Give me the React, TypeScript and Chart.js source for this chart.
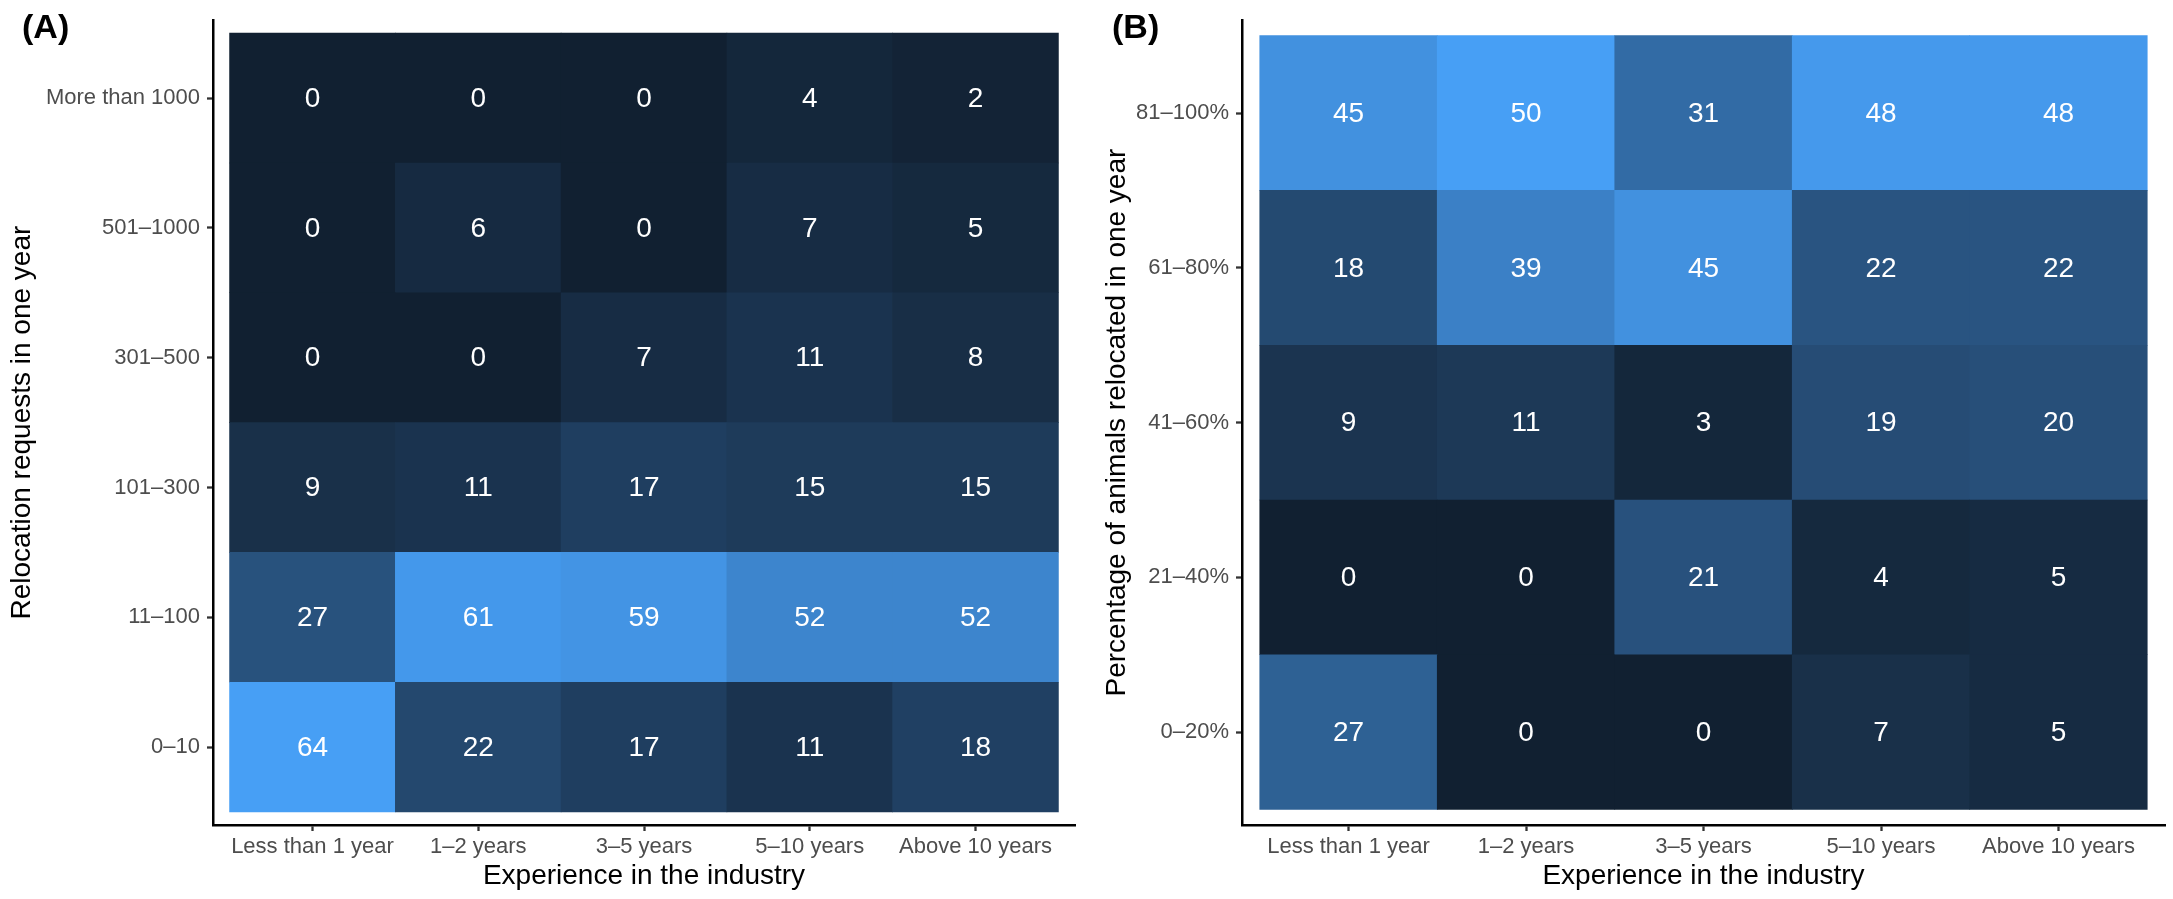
import React, { useEffect, useRef } from "react";
import { Chart, registerables } from "chart.js";

Chart.register(...registerables);

const FONT = '"Liberation Sans", Arial, Helvetica, sans-serif';

// Shared x categories
const experienceLevels = ["Less than 1 year", "1–2 years", "3–5 years", "5–10 years", "Above 10 years"];

// Panel A: relocation requests in one year (rows bottom -> top)
const requestBands = ["0–10", "11–100", "101–300", "301–500", "501–1000", "More than 1000"];
const requests0to10 = [64, 22, 17, 11, 18];
const requests11to100 = [27, 61, 59, 52, 52];
const requests101to300 = [9, 11, 17, 15, 15];
const requests301to500 = [0, 0, 7, 11, 8];
const requests501to1000 = [0, 6, 0, 7, 5];
const requestsOver1000 = [0, 0, 0, 4, 2];

// Panel B: percentage of animals relocated in one year (rows bottom -> top)
const relocatedBands = ["0–20%", "21–40%", "41–60%", "61–80%", "81–100%"];
const relocated0to20 = [27, 0, 0, 7, 5];
const relocated21to40 = [0, 0, 21, 4, 5];
const relocated41to60 = [9, 11, 3, 19, 20];
const relocated61to80 = [18, 39, 45, 22, 22];
const relocated81to100 = [45, 50, 31, 48, 48];

const LOW = "#112031";
const HIGH = "#479FF5";

// ---- colour helpers (Lab interpolation like ggplot's gradient) ----
function hexToRgb(h: string): number[] {
  const n = parseInt(h.slice(1), 16);
  return [(n >> 16) & 255, (n >> 8) & 255, n & 255];
}
function srgbToLin(c: number) {
  c /= 255;
  return c <= 0.04045 ? c / 12.92 : Math.pow((c + 0.055) / 1.055, 2.4);
}
function linToSrgb(c: number) {
  const v = c <= 0.0031308 ? 12.92 * c : 1.055 * Math.pow(c, 1 / 2.4) - 0.055;
  return Math.round(Math.min(1, Math.max(0, v)) * 255);
}
const Xn = 0.95047, Yn = 1, Zn = 1.08883;
const fLab = (t: number) => (t > 0.008856 ? Math.cbrt(t) : 7.787 * t + 16 / 116);
const fInv = (t: number) => (t > 0.206893 ? t * t * t : (t - 16 / 116) / 7.787);
function rgbToLab(rgb: number[]) {
  const R = srgbToLin(rgb[0]), G = srgbToLin(rgb[1]), B = srgbToLin(rgb[2]);
  const X = 0.4124 * R + 0.3576 * G + 0.1805 * B;
  const Y = 0.2126 * R + 0.7152 * G + 0.0722 * B;
  const Z = 0.0193 * R + 0.1192 * G + 0.9505 * B;
  const fx = fLab(X / Xn), fy = fLab(Y / Yn), fz = fLab(Z / Zn);
  return [116 * fy - 16, 500 * (fx - fy), 200 * (fy - fz)];
}
function labToRgb(lab: number[]) {
  const fy = (lab[0] + 16) / 116, fx = fy + lab[1] / 500, fz = fy - lab[2] / 200;
  const X = Xn * fInv(fx), Y = Yn * fInv(fy), Z = Zn * fInv(fz);
  const R = 3.2406 * X - 1.5372 * Y - 0.4986 * Z;
  const G = -0.9689 * X + 1.8758 * Y + 0.0415 * Z;
  const B = 0.0557 * X - 0.204 * Y + 1.057 * Z;
  return `rgb(${linToSrgb(R)},${linToSrgb(G)},${linToSrgb(B)})`;
}
const lowLab = rgbToLab(hexToRgb(LOW));
const highLab = rgbToLab(hexToRgb(HIGH));
function colorFor(v: number, min: number, max: number) {
  const t = max === min ? 0 : (v - min) / (max - min);
  return labToRgb([0, 1, 2].map((i) => lowLab[i] + (highLab[i] - lowLab[i]) * t));
}

const H = 899;
const CHART_TOP = 12;
const CHART_BOTTOM = 825;

type HeatProps = {
  left: number;
  width: number;
  rows: string[];
  cols: string[];
  values: number[][];
  yTitle: string;
  chartLeft: number;
  chartRight: number;
  yTitlePad: number;
};

function Heatmap(p: HeatProps) {
  const ref = useRef<HTMLCanvasElement | null>(null);
  useEffect(() => {
    if (!ref.current) return;
    const all = p.values.flat();
    const vmin = Math.min(...all);
    const vmax = Math.max(...all);
    const datasets = p.values.map((row, ri) => ({
      label: p.rows[ri],
      data: row.map((_, ci) => ({ x: ci, y: [ri - 0.5, ri + 0.5] })),
      backgroundColor: row.map((v) => colorFor(v, vmin, vmax)),
      borderWidth: 0,
      borderSkipped: false,
      grouped: false,
      barPercentage: 1,
      categoryPercentage: 1,
    }));
    const labelPlugin = {
      id: "cellLabels",
      afterDatasetsDraw(chart: any) {
        const { ctx, scales } = chart;
        ctx.save();
        ctx.font = `28px ${FONT}`;
        ctx.fillStyle = "#ffffff";
        ctx.textAlign = "center";
        ctx.textBaseline = "middle";
        p.values.forEach((row, ri) =>
          row.forEach((v, ci) => {
            ctx.fillText(String(v), scales.x.getPixelForValue(ci), scales.y.getPixelForValue(ri) + 1);
          })
        );
        ctx.restore();
      },
    };
    const chart = new Chart(ref.current, {
      type: "bar",
      data: { datasets: datasets as any },
      plugins: [labelPlugin],
      options: {
        animation: false,
        responsive: false,
        maintainAspectRatio: false,
        layout: { padding: { left: 0, top: CHART_TOP, right: p.width - p.chartRight, bottom: 0 } },
        plugins: { legend: { display: false }, tooltip: { enabled: false } },
        scales: {
          x: {
            type: "linear",
            offset: false,
            min: -0.6,
            max: p.cols.length - 0.4,
            afterBuildTicks: (s: any) => {
              s.ticks = p.cols.map((_, i) => ({ value: i }));
            },
            afterFit: (s: any) => {
              s.height = H - CHART_BOTTOM;
            },
            ticks: {
              callback: (v: any) => p.cols[Math.round(Number(v))] ?? "",
              color: "#4d4d4d",
              font: { family: FONT, size: 22 },
              padding: 3,
              maxRotation: 0,
              autoSkip: false,
            },
            grid: { offset: false, drawOnChartArea: false, drawTicks: true, tickLength: 6, tickWidth: 2.3, tickColor: "#333333" },
            border: { display: true, color: "#000000", width: 2.5 },
            title: {
              display: true,
              text: "Experience in the industry",
              color: "#000000",
              font: { family: FONT, size: 28 },
              padding: { top: 0, bottom: 6 },
            },
          },
          y: {
            type: "linear",
            offset: false,
            min: -0.6,
            max: p.rows.length - 0.4,
            afterBuildTicks: (s: any) => {
              s.ticks = p.rows.map((_, i) => ({ value: i }));
            },
            afterFit: (s: any) => {
              s.width = p.chartLeft;
            },
            ticks: {
              callback: (v: any) => p.rows[Math.round(Number(v))] ?? "",
              color: "#4d4d4d",
              font: { family: FONT, size: 22 },
              padding: 7,
              autoSkip: false,
            },
            grid: { drawOnChartArea: false, drawTicks: true, tickLength: 6, tickWidth: 2.3, tickColor: "#333333" },
            border: { display: true, color: "#000000", width: 2.5 },
            title: {
              display: true,
              text: p.yTitle,
              color: "#000000",
              font: { family: FONT, size: 28 },
              padding: { top: p.yTitlePad, bottom: 0 },
            },
          },
        },
      } as any,
    });
    return () => chart.destroy();
  }, []);
  return (
    <canvas
      ref={ref}
      width={p.width}
      height={H}
      style={{ position: "absolute", left: p.left, top: 0, width: p.width, height: H }}
    />
  );
}

const panelLabelStyle: React.CSSProperties = {
  position: "absolute",
  top: 9,
  fontFamily: FONT,
  fontWeight: "bold",
  fontSize: 34,
  lineHeight: "34px",
  color: "#000",
};

export default function App() {
  const valuesA = [requests0to10, requests11to100, requests101to300, requests301to500, requests501to1000, requestsOver1000];
  const valuesB = [relocated0to20, relocated21to40, relocated41to60, relocated61to80, relocated81to100];
  return (
    <div style={{ position: "absolute", left: 0, top: 0, width: 2173, height: H, background: "#fff", overflow: "hidden" }}>
      <Heatmap
        left={0}
        width={1090}
        rows={requestBands}
        cols={experienceLevels}
        values={valuesA}
        yTitle="Relocation requests in one year"
        chartLeft={213}
        chartRight={1075}
        yTitlePad={5}
      />
      <Heatmap
        left={1090}
        width={1083}
        rows={relocatedBands}
        cols={experienceLevels}
        values={valuesB}
        yTitle="Percentage of animals relocated in one year"
        chartLeft={152}
        chartRight={1075}
        yTitlePad={10}
      />
      <div style={{ ...panelLabelStyle, left: 22 }}>(A)</div>
      <div style={{ ...panelLabelStyle, left: 1112 }}>(B)</div>
    </div>
  );
}
